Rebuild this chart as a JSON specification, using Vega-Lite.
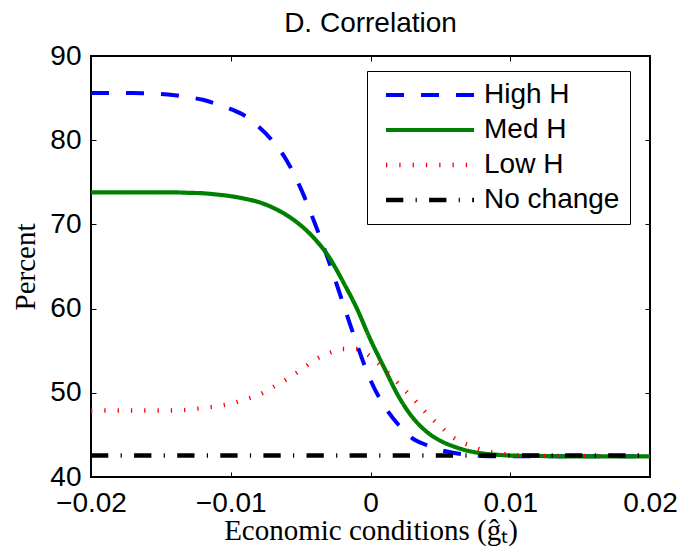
{
  "$schema": "https://vega.github.io/schema/vega-lite/v6.json",
  "autosize": {"type": "none"},
  "padding": {"left": 91, "top": 56, "right": 32, "bottom": 77},
  "width": 559,
  "height": 421,
  "background": "white",
  "title": {"text": "D. Correlation", "font": "Liberation Sans", "fontSize": 28, "fontWeight": "normal", "color": "black", "offset": 4},
  "config": {
    "view": {"stroke": "black", "strokeWidth": 2},
    "axis": {"grid": false, "domain": false, "tickColor": "black", "tickWidth": 1, "tickSize": -5, "labelColor": "black", "labelFont": "Liberation Sans", "labelFontSize": 28, "titleColor": "black", "titleFont": "Liberation Serif", "titleFontSize": 29, "titleFontWeight": "normal"}
  },
  "datasets": {
    "lines": [
      {"x": -0.020, "y": 85.6, "s": "High H"}, {"x": -0.019, "y": 85.6, "s": "High H"}, {"x": -0.018, "y": 85.6, "s": "High H"}, {"x": -0.017, "y": 85.6, "s": "High H"}, {"x": -0.016, "y": 85.55, "s": "High H"}, {"x": -0.015, "y": 85.5, "s": "High H"}, {"x": -0.014, "y": 85.35, "s": "High H"}, {"x": -0.013, "y": 85.1, "s": "High H"}, {"x": -0.012, "y": 84.8, "s": "High H"}, {"x": -0.011, "y": 84.3, "s": "High H"}, {"x": -0.010, "y": 83.7, "s": "High H"}, {"x": -0.009, "y": 82.9, "s": "High H"}, {"x": -0.008, "y": 81.6, "s": "High H"}, {"x": -0.007, "y": 79.9, "s": "High H"}, {"x": -0.006, "y": 77.6, "s": "High H"}, {"x": -0.005, "y": 74.3, "s": "High H"}, {"x": -0.004, "y": 70.2, "s": "High H"}, {"x": -0.003, "y": 65.7, "s": "High H"}, {"x": -0.002, "y": 60.8, "s": "High H"}, {"x": -0.001, "y": 55.9, "s": "High H"}, {"x": 0.000, "y": 51.5, "s": "High H"}, {"x": 0.001, "y": 48.4, "s": "High H"}, {"x": 0.002, "y": 46.2, "s": "High H"}, {"x": 0.003, "y": 44.6, "s": "High H"}, {"x": 0.004, "y": 43.8, "s": "High H"}, {"x": 0.005, "y": 43.2, "s": "High H"}, {"x": 0.006, "y": 42.85, "s": "High H"}, {"x": 0.007, "y": 42.65, "s": "High H"}, {"x": 0.008, "y": 42.5, "s": "High H"}, {"x": 0.009, "y": 42.45, "s": "High H"}, {"x": 0.010, "y": 42.45, "s": "High H"}, {"x": 0.012, "y": 42.45, "s": "High H"}, {"x": 0.014, "y": 42.45, "s": "High H"}, {"x": 0.016, "y": 42.45, "s": "High H"}, {"x": 0.018, "y": 42.45, "s": "High H"}, {"x": 0.020, "y": 42.45, "s": "High H"},
      {"x": -0.020, "y": 73.8, "s": "Med H"}, {"x": -0.018, "y": 73.8, "s": "Med H"}, {"x": -0.016, "y": 73.8, "s": "Med H"}, {"x": -0.014, "y": 73.8, "s": "Med H"}, {"x": -0.013, "y": 73.75, "s": "Med H"}, {"x": -0.012, "y": 73.7, "s": "Med H"}, {"x": -0.011, "y": 73.55, "s": "Med H"}, {"x": -0.010, "y": 73.35, "s": "Med H"}, {"x": -0.009, "y": 73.05, "s": "Med H"}, {"x": -0.008, "y": 72.65, "s": "Med H"}, {"x": -0.007, "y": 72.0, "s": "Med H"}, {"x": -0.006, "y": 71.1, "s": "Med H"}, {"x": -0.005, "y": 69.9, "s": "Med H"}, {"x": -0.004, "y": 68.3, "s": "Med H"}, {"x": -0.003, "y": 66.2, "s": "Med H"}, {"x": -0.002, "y": 63.3, "s": "Med H"}, {"x": -0.001, "y": 60.1, "s": "Med H"}, {"x": 0.000, "y": 56.3, "s": "Med H"}, {"x": 0.001, "y": 52.9, "s": "Med H"}, {"x": 0.002, "y": 49.6, "s": "Med H"}, {"x": 0.003, "y": 47.1, "s": "Med H"}, {"x": 0.004, "y": 45.4, "s": "Med H"}, {"x": 0.005, "y": 44.3, "s": "Med H"}, {"x": 0.006, "y": 43.6, "s": "Med H"}, {"x": 0.007, "y": 43.1, "s": "Med H"}, {"x": 0.008, "y": 42.8, "s": "Med H"}, {"x": 0.009, "y": 42.65, "s": "Med H"}, {"x": 0.010, "y": 42.55, "s": "Med H"}, {"x": 0.012, "y": 42.5, "s": "Med H"}, {"x": 0.014, "y": 42.45, "s": "Med H"}, {"x": 0.016, "y": 42.45, "s": "Med H"}, {"x": 0.018, "y": 42.45, "s": "Med H"}, {"x": 0.020, "y": 42.45, "s": "Med H"},
      {"x": -0.020, "y": 47.9, "s": "Low H"}, {"x": -0.018, "y": 47.9, "s": "Low H"}, {"x": -0.016, "y": 47.9, "s": "Low H"}, {"x": -0.014, "y": 47.9, "s": "Low H"}, {"x": -0.013, "y": 48.0, "s": "Low H"}, {"x": -0.012, "y": 48.2, "s": "Low H"}, {"x": -0.011, "y": 48.4, "s": "Low H"}, {"x": -0.010, "y": 48.7, "s": "Low H"}, {"x": -0.009, "y": 49.2, "s": "Low H"}, {"x": -0.008, "y": 49.75, "s": "Low H"}, {"x": -0.007, "y": 50.65, "s": "Low H"}, {"x": -0.006, "y": 51.6, "s": "Low H"}, {"x": -0.005, "y": 52.7, "s": "Low H"}, {"x": -0.004, "y": 53.9, "s": "Low H"}, {"x": -0.003, "y": 54.7, "s": "Low H"}, {"x": -0.002, "y": 55.2, "s": "Low H"}, {"x": -0.001, "y": 55.2, "s": "Low H"}, {"x": 0.000, "y": 54.3, "s": "Low H"}, {"x": 0.001, "y": 52.8, "s": "Low H"}, {"x": 0.002, "y": 51.1, "s": "Low H"}, {"x": 0.003, "y": 49.4, "s": "Low H"}, {"x": 0.004, "y": 47.6, "s": "Low H"}, {"x": 0.005, "y": 46.0, "s": "Low H"}, {"x": 0.006, "y": 44.6, "s": "Low H"}, {"x": 0.007, "y": 43.8, "s": "Low H"}, {"x": 0.008, "y": 43.2, "s": "Low H"}, {"x": 0.009, "y": 42.85, "s": "Low H"}, {"x": 0.010, "y": 42.65, "s": "Low H"}, {"x": 0.011, "y": 42.55, "s": "Low H"}, {"x": 0.012, "y": 42.5, "s": "Low H"}, {"x": 0.014, "y": 42.5, "s": "Low H"}, {"x": 0.016, "y": 42.5, "s": "Low H"}, {"x": 0.018, "y": 42.5, "s": "Low H"}, {"x": 0.020, "y": 42.5, "s": "Low H"},
      {"x": -0.020, "y": 42.55, "s": "No change"}, {"x": 0.020, "y": 42.55, "s": "No change"}
    ]
  },
  "layer": [
    {
      "data": {"name": "lines"},
      "mark": {"type": "line", "interpolate": "monotone", "strokeCap": "butt"},
      "encoding": {
        "x": {"field": "x", "type": "quantitative", "scale": {"domain": [-0.02, 0.02], "nice": false, "zero": false},
              "axis": {"orient": "bottom", "values": [-0.02, -0.01, 0, 0.01, 0.02], "format": ".2~f", "labelPadding": 17, "labelFlush": false, "title": "Economic conditions (ĝₜ)", "titleBaseline": "alphabetic", "titlePadding": 22}},
        "y": {"field": "y", "type": "quantitative", "scale": {"domain": [40, 90], "nice": false, "zero": false},
              "axis": {"orient": "left", "values": [40, 50, 60, 70, 80, 90], "labelPadding": 15, "title": "Percent", "titleBaseline": "alphabetic", "titlePadding": 15}},
        "color": {"field": "s", "type": "nominal", "scale": {"domain": ["High H", "Med H", "Low H", "No change"], "range": ["#0000ff", "#008000", "#ff0000", "#000000"]},
                  "legend": {"orient": "none", "legendX": 276, "legendY": 15, "title": null, "symbolType": "M-4,0L4,0", "symbolSize": 484, "labelFont": "Liberation Sans", "labelFontSize": 28, "labelColor": "black", "labelLimit": 400, "strokeColor": "black", "fillColor": "white", "padding": 10, "rowPadding": 7, "symbolOffset": 39, "labelOffset": 40}},
        "strokeDash": {"field": "s", "type": "nominal", "scale": {"domain": ["High H", "Med H", "Low H", "No change"], "range": [[18, 17], [1, 0], [1.3, 12], [17.3, 12.3, 1.2, 12.3]]},
                  "legend": {"orient": "none", "legendX": 276, "legendY": 15, "title": null}},
        "strokeWidth": {"field": "s", "type": "nominal", "scale": {"domain": ["High H", "Med H", "Low H", "No change"], "range": [4, 4.5, 3.5, 4]},
                  "legend": {"orient": "none", "legendX": 276, "legendY": 15, "title": null}}
      }
    },
    {
      "data": {"name": "lines"},
      "mark": {"type": "point", "opacity": 0},
      "encoding": {
        "x": {"field": "x", "type": "quantitative", "scale": {"domain": [-0.02, 0.02], "nice": false, "zero": false},
              "axis": {"orient": "top", "values": [-0.02, -0.01, 0, 0.01, 0.02], "labels": false, "title": null}},
        "y": {"field": "y", "type": "quantitative", "scale": {"domain": [40, 90], "nice": false, "zero": false},
              "axis": {"orient": "right", "values": [40, 50, 60, 70, 80, 90], "labels": false, "title": null}}
      }
    }
  ],
  "resolve": {"axis": {"x": "independent", "y": "independent"}}
}
